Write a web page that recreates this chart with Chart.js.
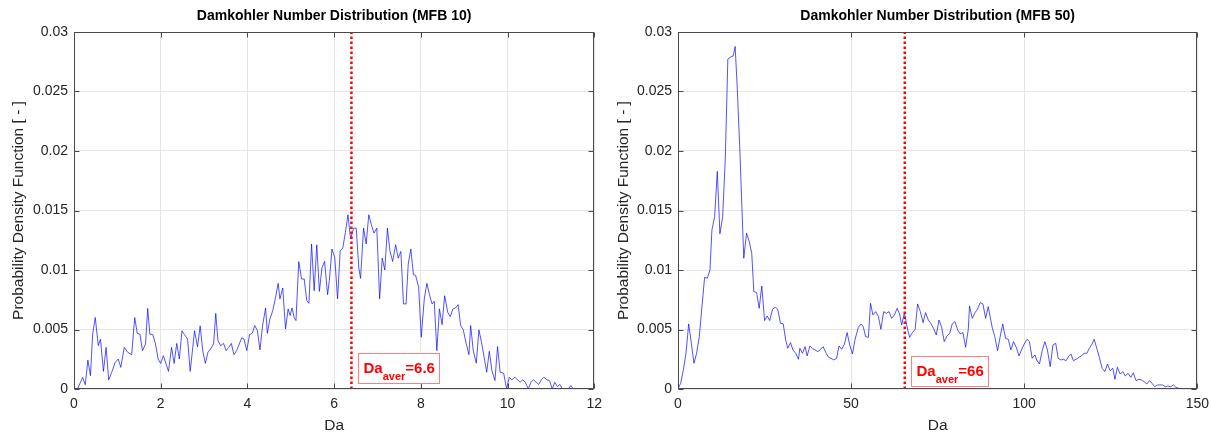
<!DOCTYPE html>
<html><head><meta charset="utf-8">
<script src="https://cdn.jsdelivr.net/npm/chart.js@4.4.1/dist/chart.umd.min.js"></script>
<style>
html,body{margin:0;padding:0;background:#fff;overflow:hidden;}
#wrap{position:relative;width:1211px;height:433px;overflow:hidden;}
#c1{position:absolute;left:0;top:0;}
#c2{position:absolute;left:605px;top:0;}
</style></head><body>
<div id="wrap"><canvas id="c1" width="609" height="433"></canvas><canvas id="c2" width="611" height="433"></canvas></div>
<script>
// ---------- data ----------
const titleLeft = 'Damkohler Number Distribution (MFB 10)';
const titleRight = 'Damkohler Number Distribution (MFB 50)';
const xAxisTitle = 'Da';
const yAxisTitle = 'Probability Density Function [ - ]';

const xTicksLeft = [0, 2, 4, 6, 8, 10, 12];
const xTicksRight = [0, 50, 100, 150];
const yTicks = [0, 0.005, 0.01, 0.015, 0.02, 0.025, 0.03];

const avgLeft = 6.4;   const avgLabelLeft = '6.6';
const avgRight = 65.5; const avgLabelRight = '66';

const xLeft = [0,0.08,0.2,0.26,0.32,0.38,0.43,0.49,0.56,0.61,0.68,0.74,0.8,0.87,0.95,1.02,1.08,1.16,1.24,1.33,
1.4,1.46,1.52,1.58,1.65,1.7,1.75,1.82,1.88,1.94,2.0,2.06,2.12,2.18,2.25,2.31,2.37,2.43,2.49,2.55,
2.62,2.68,2.74,2.78,2.85,2.91,2.97,3.03,3.09,3.15,3.22,3.27,3.32,3.38,3.45,3.51,3.57,3.63,3.69,3.75,
3.87,3.92,3.985,4.05,4.11,4.17,4.23,4.29,4.35,4.42,4.46,4.52,4.585,4.65,4.71,4.75,4.815,4.88,4.94,4.985,
5.03,5.08,5.12,5.185,5.25,5.31,5.37,5.42,5.48,5.54,5.6,5.66,5.72,5.78,5.85,5.89,5.95,6.015,6.08,6.14,
6.2,6.26,6.32,6.38,6.45,6.51,6.57,6.61,6.68,6.74,6.8,6.86,6.92,6.985,7.05,7.11,7.17,7.23,7.29,7.35,
7.42,7.48,7.54,7.6,7.66,7.71,7.77,
7.83,7.88,7.95,8.01,8.08,8.14,8.2,8.26,8.31,8.37,8.43,8.49,8.55,8.62,8.68,8.74,8.8,8.86,8.92,8.98,
9.045,9.11,9.15,9.21,9.28,9.34,9.4,9.46,9.52,9.58,9.64,9.71,9.77,9.83,9.91,9.98,10.04,10.1,10.17,10.23,
10.29,10.35,10.41,10.48,10.54,10.6,10.66,10.72,10.78,10.84,10.91,10.97,11.03,11.09,11.15,11.21,11.27,11.34,11.4,11.46,
11.52,12];
const yLeft = [0,0,0.00098,0.00036,0.00243,0.00112,0.00461,0.00601,0.00364,0.00419,0.00148,0.0035,0.00076,0.0014,0.00224,0.00252,0.00182,0.0035,0.00308,0.00288,
0.00601,0.00467,0.00461,0.00322,0.00378,0.00677,0.00461,0.00456,0.00378,0.00252,0.00215,0.0028,0.00215,0.00148,0.0035,0.00215,0.00383,0.00252,0.00489,0.00456,
0.00419,0.00148,0.0035,0.00489,0.00355,0.00531,0.00322,0.00215,0.00308,0.00336,0.00378,0.00635,0.00411,0.00364,0.00383,0.00322,0.0035,0.00383,0.00288,0.00322,
0.0043,0.00421,0.00323,0.00457,0.00468,0.00533,0.00491,0.00329,0.00533,0.00681,0.00468,0.00589,0.00659,0.0077,0.00888,0.00757,0.00849,0.00505,0.00673,0.00617,
0.00681,0.00597,0.00575,0.0107,0.00924,0.00924,0.00742,0.0072,0.01218,0.00826,0.01212,0.0082,0.01017,0.01072,0.00793,0.0091,0.01176,0.01106,0.00757,0.01162,
0.01185,0.01315,0.01464,0.0126,0.01352,0.01352,0.01017,0.0093,0.01352,0.01218,0.01464,0.0138,0.0131,0.01352,0.00757,0.011,0.01,0.01352,0.01156,0.01072,
0.01212,0.011,0.01156,0.00715,0.00715,0.0105,0.01176,
0.0096,0.00955,0.00854,0.00435,0.00757,0.00888,0.00793,0.00715,0.00737,0.00323,0.00673,0.00541,0.00784,0.00645,0.00608,0.00673,0.00681,0.00709,0.00533,0.00497,
0.00384,0.00289,0.00533,0.00323,0.00217,0.00497,0.00393,0.00267,0.00141,0.00317,0.00155,0.00071,0.00357,0.00141,0.00133,0,0.00099,0.00077,0.00099,0.00077,
0.00057,0.00077,0.00057,0,0.00057,0.00077,0.00057,0.00038,0.00077,0.00099,0.00077,0.00071,0,0.00057,0.00021,0.00038,0,0,0,0.00028,
0,0];

const xRight = [0,0.77,1.54,2.31,3.08,3.85,4.61,5.38,6.15,6.92,7.69,8.46,9.23,9.8,10.58,11.35,12.1,12.9,13.65,14.4,
15.2,15.96,16.5,17.1,17.9,18.45,19.0,19.8,20.57,21.3,21.9,22.7,23.45,24.2,25.0,25.76,26.5,27.3,28.1,28.8,
29.6,30.4,31.1,31.7,32.5,33.2,34.0,34.8,
35.19,35.96,36.7,37.3,38.1,38.8,39.6,40.4,41.2,41.9,42.7,43.5,44.2,45.0,45.8,46.5,47.3,48.08,48.85,49.6,
50.4,51.15,52.1,52.9,53.5,54.2,55.0,55.6,56.3,57.1,57.9,58.6,59.4,60.2,60.96,61.7,62.5,63.3,64.0,64.6,
65.4,66.15,66.9,67.7,68.5,69.2,70.0,70.8,71.5,72.3,73.1,73.8,74.6,75.4,76.15,76.9,77.7,78.5,79.2,80.0,
80.8,81.5,82.3,83.07,83.85,84.2,85.0,85.8,86.5,87.3,88.07,88.85,89.6,
90.8,91.5,92.3,93.1,93.8,94.6,95.4,96.15,96.9,97.7,98.5,99.2,100.0,100.8,101.5,102.3,103.1,103.6,104.4,105.2,
105.96,106.7,107.5,108.3,109.1,109.8,110.6,111.35,112.1,112.9,113.5,114.2,115.0,115.8,116.5,117.3,118.1,118.8,119.6,120.2,
120.96,121.7,122.5,123.3,124.05,124.8,125.6,126.2,126.9,127.7,128.5,129.2,130.0,130.8,131.5,132.3,133.1,133.85,134.6,135.4,
136.2,136.9,137.7,138.5,139.2,140.0,140.8,141.5,142.3,143.1,143.8,144.6,145.4,146.1,150];
const yRight = [0,0.00048,0.0016,0.003,0.00547,0.00384,0.00216,0.003,0.0044,0.00692,0.00939,0.00931,0.01,0.01337,0.01449,0.01828,0.01304,0.01449,0.01926,0.02773,
0.0279,0.028,0.02879,0.02543,0.01982,0.01533,0.01099,0.0131,0.01239,0.01141,0.00819,0.0081,0.00678,0.00866,0.00575,0.00614,0.00575,0.0067,0.00687,0.0067,
0.00552,0.00547,0.00412,0.00342,0.0039,0.00328,0.003,0.0025,
0.00342,0.003,0.00356,0.00278,0.00362,0.00342,0.00328,0.00314,0.00334,0.00356,0.00306,0.00266,0.00258,0.00244,0.00258,0.00362,0.00334,0.00378,0.00474,0.0037,
0.00294,0.00418,0.00519,0.00547,0.00524,0.0044,0.00434,0.00721,0.00622,0.0065,0.00608,0.00502,0.0065,0.00636,0.0065,0.00594,0.00622,0.00678,0.00631,0.00538,
0.00642,0.00524,0.00434,0.00474,0.00502,0.00715,0.0065,0.00558,0.00642,0.0058,0.00547,0.0051,0.00454,0.0058,0.00519,0.00398,0.00446,0.00468,0.00547,0.00566,
0.00496,0.00463,0.00474,0.00351,0.00502,0.00698,0.00594,0.00642,0.0067,0.00726,0.00715,0.00594,0.00692,
0.0051,0.0044,0.00322,0.00446,0.00547,0.00426,0.00418,0.00328,0.00398,0.00351,0.00278,0.00328,0.00378,0.00418,0.00398,0.00258,0.00286,0.00244,0.0021,0.00322,
0.00398,0.00328,0.00188,0.0037,0.00384,0.00258,0.00244,0.0025,0.00238,0.00278,0.00294,0.00238,0.0025,0.00266,0.00278,0.003,0.003,0.00342,0.00378,0.00418,
0.00342,0.00266,0.00174,0.00146,0.0021,0.00154,0.00174,0.00081,0.00182,0.00126,0.00146,0.00109,0.00132,0.00098,0.00137,0.0007,0.00081,0.00076,0.00062,0.00042,
0.0007,0.00048,0.00019,0.00034,0.00034,0.00034,0.00019,0.00025,0.00019,0.00034,0.00014,0.00006,0,0,0];

// ---------- rendering ----------
Chart.defaults.font.family = "'Liberation Sans', Arial, sans-serif";
Chart.defaults.color = '#262626';

const matlabBox = {
  id: 'matlabBox',
  afterDatasetsDraw(chart, args, o) {
    const {ctx, chartArea: a, scales: {x, y}} = chart;
    ctx.save();
    ctx.strokeStyle = '#4a4a4a';
    ctx.lineWidth = 1;
    const L = Math.round(a.left) + 0.5, R = Math.round(a.right) - 0.5;
    const T = Math.round(a.top) + 0.5, B = Math.round(a.bottom) - 0.5;
    ctx.strokeRect(L, T, R - L, B - T);
    ctx.beginPath();
    o.xTicks.forEach(v => {
      const px = Math.round(x.getPixelForValue(v)) + 0.5;
      ctx.moveTo(px, B); ctx.lineTo(px, B - 5);
      ctx.moveTo(px, T); ctx.lineTo(px, T + 5);
    });
    o.yTicks.forEach(v => {
      const py = Math.round(y.getPixelForValue(v)) + 0.5;
      ctx.moveTo(L, py); ctx.lineTo(L + 5, py);
      ctx.moveTo(R, py); ctx.lineTo(R - 5, py);
    });
    ctx.stroke();
    // average label box
    const bx = Math.round(x.getPixelForValue(o.labelAt.x)) + 0.5;
    const by = Math.round(y.getPixelForValue(o.labelAt.y)) + 0.5;
    const fMain = "bold 15px 'Liberation Sans', Arial, sans-serif";
    const fSub = "bold 11px 'Liberation Sans', Arial, sans-serif";
    ctx.font = fMain; const w1 = ctx.measureText('Da').width;
    const w3 = ctx.measureText('=' + o.text).width;
    ctx.font = fSub; const w2 = ctx.measureText('aver').width;
    const pad = 5;
    const bw = Math.round(w1 + w2 + w3 + 2 * pad), bh = 30;
    ctx.fillStyle = '#ffffff';
    ctx.fillRect(bx, by, bw, bh);
    ctx.strokeStyle = '#ff8080';
    ctx.strokeRect(bx, by, bw, bh);
    ctx.fillStyle = '#ff0000';
    ctx.textBaseline = 'alphabetic';
    ctx.textAlign = 'left';
    ctx.font = fMain; ctx.fillText('Da', bx + pad, by + 19);
    ctx.font = fSub; ctx.fillText('aver', bx + pad + w1, by + 26.5);
    ctx.font = fMain; ctx.fillText('=' + o.text, bx + pad + w1 + w2, by + 19);
    ctx.restore();
  }
};

function makeChart(id, xs, ys, avg, avgText, xMax, xTicks, title, padRight, yWidth, labelAt) {
  const pts = xs.map((v, i) => ({x: v, y: ys[i]}));
  new Chart(document.getElementById(id), {
    type: 'line',
    data: {
      datasets: [
        {data: [{x: avg, y: 0}, {x: avg, y: 0.03}], borderColor: '#ff0000', borderWidth: 2.5,
         borderDash: [2.5, 2.5], pointRadius: 0, order: 0},
        {data: pts, borderColor: 'rgba(0,0,255,0.68)', borderWidth: 1, pointRadius: 0,
         tension: 0, order: 1}
      ]
    },
    options: {
      responsive: false, animation: false, events: [],
      layout: {padding: {left: 0, right: padRight, top: 0, bottom: 0}},
      plugins: {
        legend: {display: false}, tooltip: {enabled: false},
        title: {display: true, text: title, fullSize: false, color: '#000',
                font: {size: 14, weight: 'bold'}, padding: {top: 8, bottom: 7.2}},
        matlabBox: {xTicks: xTicks, yTicks: yTicks, labelAt: labelAt, text: avgText}
      },
      scales: {
        x: {
          type: 'linear', min: 0, max: xMax,
          afterFit: s => { s.height = 44; },
          afterBuildTicks: s => { s.ticks = xTicks.map(v => ({value: v})); },
          grid: {color: '#e6e6e6', drawTicks: false},
          border: {display: false},
          ticks: {padding: 7, font: {size: 14}, color: '#262626', maxRotation: 0,
                  callback: v => String(v)},
          title: {display: true, text: xAxisTitle, color: '#262626', font: {size: 15.5},
                  padding: {top: 0, bottom: -2}}
        },
        y: {
          type: 'linear', min: 0, max: 0.03,
          afterFit: s => { s.width = yWidth; },
          afterBuildTicks: s => { s.ticks = yTicks.map(v => ({value: v})); },
          grid: {color: '#e6e6e6', drawTicks: false},
          border: {display: false},
          ticks: {padding: 6, font: {size: 14}, color: '#262626',
                  callback: v => String(Number(v.toFixed(4)))},
          title: {display: true, text: yAxisTitle, color: '#262626', font: {size: 15.5},
                  padding: {top: 9.5, bottom: 0}}
        }
      }
    },
    plugins: [matlabBox]
  });
}

makeChart('c1', xLeft, yLeft, avgLeft, avgLabelLeft, 12, xTicksLeft, titleLeft, 0, 74, {x: 6.56, y: 0.0030});
makeChart('c2', xRight, yRight, avgRight, avgLabelRight, 150, xTicksRight, titleRight, 0, 73, {x: 67.2, y: 0.00277});
</script>
</body></html>
